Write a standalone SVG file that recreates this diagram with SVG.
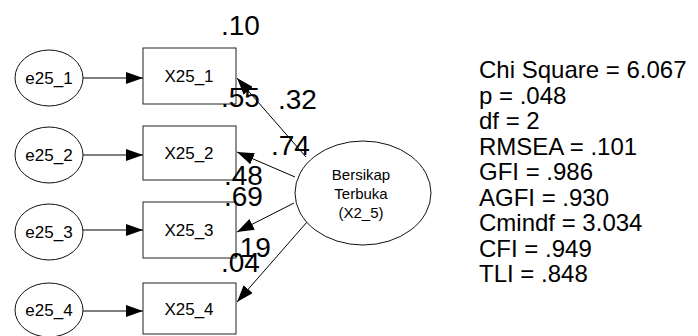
<svg xmlns="http://www.w3.org/2000/svg" width="698" height="336" viewBox="0 0 698 336">
<defs>
<marker id="ah" viewBox="0 0 17 12" refX="17" refY="6" markerWidth="17" markerHeight="12" markerUnits="userSpaceOnUse" orient="auto">
<path d="M0,0 L17,6 L0,12 Z" fill="#000"/>
</marker>
<style>
.e{fill:#fff;stroke:#111;stroke-width:1}
.r{fill:#fff;stroke:#222;stroke-width:1}
.t{font-family:"Liberation Sans",Arial,sans-serif;fill:#000}
.n{font-size:17px;text-anchor:middle}
.c{stroke:#000;stroke-width:1;fill:none;marker-end:url(#ah)}
.w{font-size:28px}
.s{font-size:24px}
</style>
</defs>
<rect width="698" height="336" fill="#fff"/>
<g id="connectors">
<line class="c" x1="83" y1="78" x2="143" y2="78"/>
<line class="c" x1="83" y1="155" x2="143" y2="155"/>
<line class="c" x1="83" y1="230" x2="143" y2="230"/>
<line class="c" x1="83" y1="311" x2="143" y2="311"/>
<line class="c" x1="306" y1="157" x2="237" y2="78"/>
<line class="c" x1="295" y1="177" x2="237" y2="152"/>
<line class="c" x1="294" y1="203" x2="237" y2="232"/>
<line class="c" x1="307" y1="222" x2="237" y2="302"/>
</g>
<g id="e25_1"><ellipse class="e" cx="49" cy="78" rx="34" ry="28"/><text class="t n" x="49" y="84">e25_1</text></g>
<g id="e25_2"><ellipse class="e" cx="49" cy="155" rx="34" ry="28"/><text class="t n" x="49" y="161">e25_2</text></g>
<g id="e25_3"><ellipse class="e" cx="49" cy="232" rx="34" ry="28"/><text class="t n" x="49" y="238">e25_3</text></g>
<g id="e25_4"><ellipse class="e" cx="49" cy="310" rx="34" ry="27"/><text class="t n" x="49" y="316">e25_4</text></g>
<g id="X25_1"><rect class="r" x="143" y="48" width="93" height="56"/><text class="t n" x="189" y="82">X25_1</text></g>
<g id="X25_2"><rect class="r" x="143" y="126" width="93" height="54"/><text class="t n" x="189" y="159">X25_2</text></g>
<g id="X25_3"><rect class="r" x="143" y="202" width="93" height="56"/><text class="t n" x="189" y="236">X25_3</text></g>
<g id="X25_4"><rect class="r" x="143" y="283" width="93" height="51"/><text class="t n" x="189" y="315">X25_4</text></g>
<g id="X2_5">
<ellipse class="e" cx="363" cy="193" rx="68" ry="52"/>
<text class="t" font-size="15" text-anchor="middle"><tspan x="361" y="180">Bersikap</tspan><tspan x="361" y="199">Terbuka</tspan><tspan x="361" y="218">(X2_5)</tspan></text>
</g>
<g id="labels">
<text class="t w" x="221" y="35">.10</text>
<text class="t w" x="221" y="107">.55</text>
<text class="t w" x="278" y="109">.32</text>
<text class="t w" x="271" y="155">.74</text>
<text class="t w" x="224" y="185">.48</text>
<text class="t w" x="224" y="206">.69</text>
<text class="t w" x="232" y="257">.19</text>
<text class="t w" x="221" y="272">.04</text>
</g>
<g id="stats">
<text class="t s"><tspan x="479" y="78">Chi Square = 6.067</tspan><tspan x="479" y="103.5">p = .048</tspan><tspan x="479" y="129">df = 2</tspan><tspan x="479" y="154.5">RMSEA = .101</tspan><tspan x="479" y="180">GFI = .986</tspan><tspan x="479" y="205.5">AGFI = .930</tspan><tspan x="479" y="231">Cmindf = 3.034</tspan><tspan x="479" y="256.5">CFI = .949</tspan><tspan x="479" y="282">TLI = .848</tspan></text>
</g>
</svg>
